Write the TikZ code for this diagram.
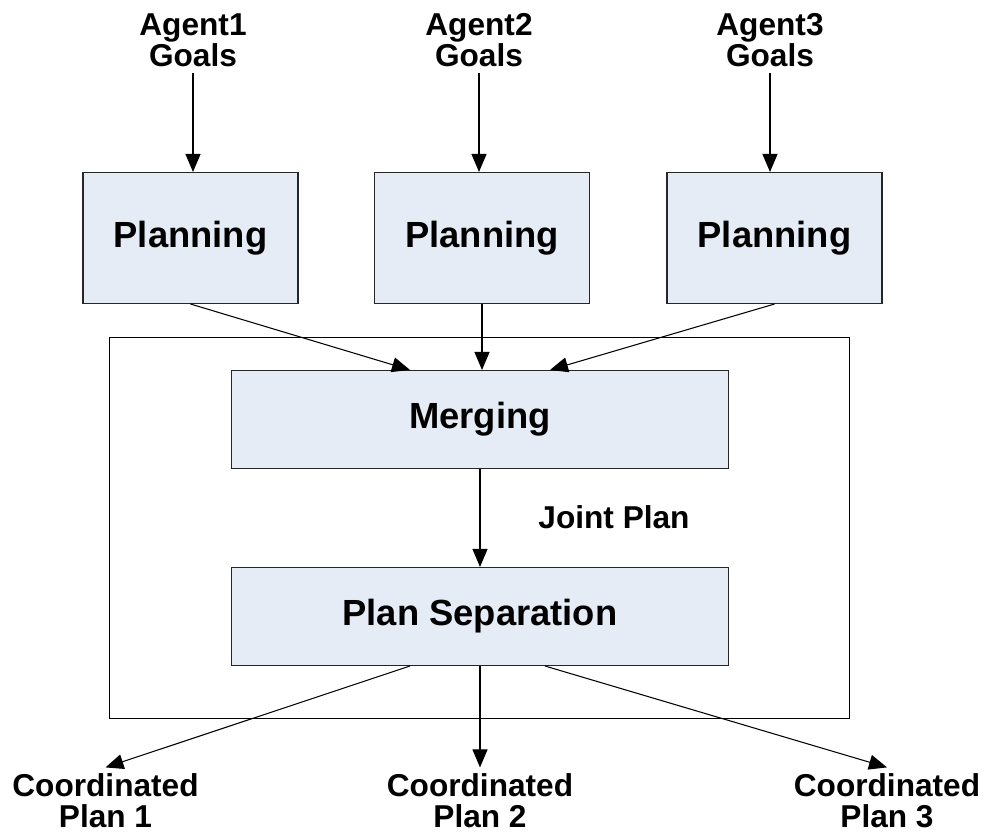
\documentclass[tikz,border=0pt]{standalone}
\usepackage{fontspec}
\setmainfont{Liberation Sans}
\usetikzlibrary{arrows.meta,positioning}
\definecolor{boxfill}{HTML}{E6ECF6}

\begin{document}
\begin{tikzpicture}[x=0.02cm, y=-0.02cm, >={Triangle[length=0.36cm,width=0.3cm]},
   box/.style={draw=black!85, fill=boxfill, line width=0.6pt, font=\fontsize{20.7}{22}\selectfont\bfseries},
   lbl/.style={align=center, inner sep=3.5pt, font=\fontsize{18}{17.6}\selectfont\bfseries}]

   \useasboundingbox (0,0) rectangle (988,834);

   % outer frame round merging and separation
   \node[draw, line width=0.6pt, minimum width=14.82cm, minimum height=7.64cm] (frame) at (479.5,528) {};

   % goals of the agents
   \node[lbl] (goal1) at (193,40) {Agent1\\Goals};
   \node[lbl] (goal2) at (479,40) {Agent2\\Goals};
   \node[lbl] (goal3) at (770,40) {Agent3\\Goals};

   % planning of each agent
   \node[box, minimum width=4.3cm, minimum height=2.62cm] (plan1) at (190.5,238) {Planning};
   \node[box, minimum width=4.3cm, minimum height=2.62cm] (plan2) at (482,238) {Planning};
   \node[box, minimum width=4.3cm, minimum height=2.62cm] (plan3) at (774.5,238) {Planning};

   \node[box, minimum width=9.94cm, minimum height=1.96cm] (merge) at (480,419.5) {Merging};
   \node[box, minimum width=9.94cm, minimum height=1.96cm] (split) at (480,616.5) {Plan Separation};
   \node[lbl] (joint) at (614,517) {Joint Plan};

   % coordinated plans
   \node[lbl] (coord1) at (105.5,801) {Coordinated\\Plan 1};
   \node[lbl] (coord2) at (480,801) {Coordinated\\Plan 2};
   \node[lbl] (coord3) at (887,801) {Coordinated\\Plan 3};

   % connections
   \path[->, line width=0.6pt]
    (goal1.south) edge (goal1.south |- plan1.north)
    (goal2.south) edge (goal2.south |- plan2.north)
    (goal3.south) edge (goal3.south |- plan3.north)
    (plan1.south) edge ([xshift=-1.4cm]merge.north)
    (plan2.south) edge (plan2.south |- merge.north)
    (plan3.south) edge ([xshift=1.4cm]merge.north)
    (merge) edge (split)
    ([xshift=-1.4cm]split.south) edge (coord1.north)
    (split) edge (coord2)
    ([xshift=1.3cm]split.south) edge (coord3.north);

\end{tikzpicture}
\end{document}
